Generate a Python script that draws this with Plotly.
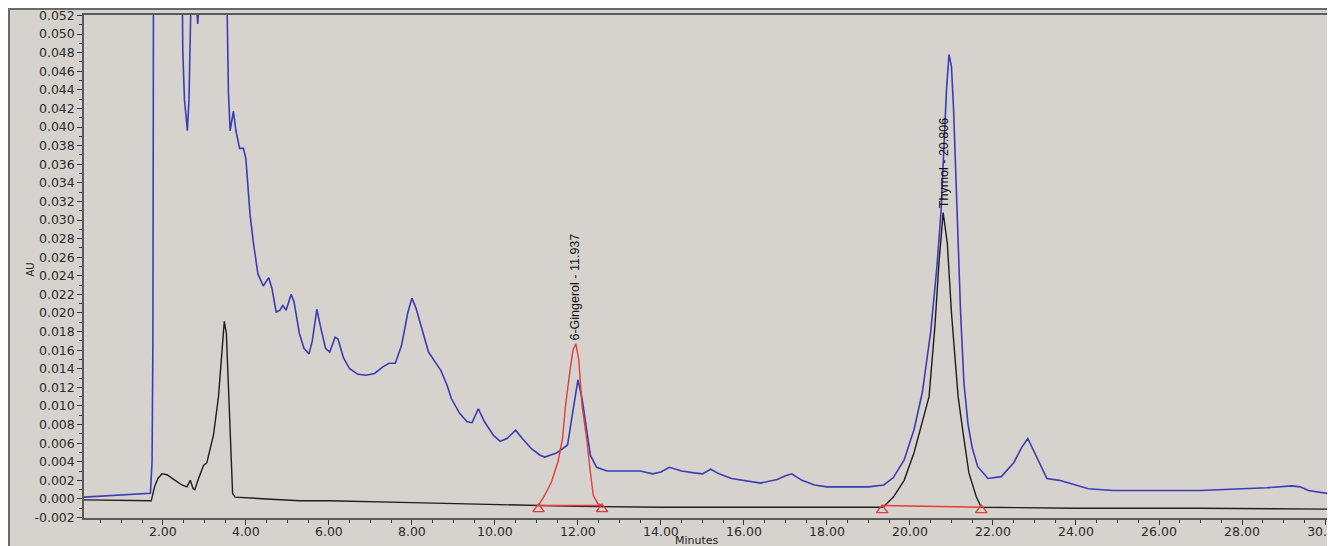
import plotly.graph_objects as go

# ---------------- data ----------------
blue_t = [0.1, 0.5, 1.0, 1.5, 1.70, 1.74, 1.76, 1.77, 1.78, 2.0, 2.3, 2.46, 2.48, 2.52, 2.59, 2.63, 2.66,
          2.75, 2.81, 2.84, 2.87, 3.0, 3.3, 3.54, 3.58, 3.62, 3.70, 3.76, 3.85, 3.94, 4.0, 4.10, 4.18,
          4.29, 4.42, 4.55, 4.63, 4.73, 4.82, 4.89, 4.97, 5.09, 5.16, 5.29, 5.40, 5.52, 5.60, 5.71, 5.80,
          5.92, 6.02, 6.15, 6.22, 6.35, 6.50, 6.70, 6.90, 7.10, 7.30, 7.45, 7.60, 7.75, 7.90, 8.0, 8.1,
          8.25, 8.40, 8.55, 8.70, 8.85, 8.95, 9.15, 9.33, 9.45, 9.60, 9.75, 9.97, 10.13, 10.29, 10.50,
          10.66, 10.88, 11.09, 11.20, 11.47, 11.63, 11.75, 11.85, 11.92, 12.0, 12.1, 12.2, 12.3, 12.45,
          12.7, 13.0, 13.5, 13.8, 14.0, 14.2, 14.5, 14.8, 15.0, 15.2, 15.4, 15.7, 16.0, 16.4, 16.8, 17.0,
          17.15, 17.4, 17.7, 18.0, 18.5, 19.0, 19.37, 19.6, 19.86, 20.1, 20.3, 20.5, 20.65, 20.75, 20.82,
          20.88, 20.94, 21.0, 21.05, 21.1, 21.16, 21.22, 21.3, 21.4, 21.5, 21.63, 21.88, 22.2, 22.5, 22.7,
          22.84, 22.95, 23.08, 23.3, 23.6, 23.9, 24.3, 24.9, 26.0, 27.0, 28.0, 28.6, 29.2, 29.4, 29.6, 30.2]
blue_v = [0.0002, 0.0003, 0.0004, 0.0005, 0.0006, 0.0040, 0.0170, 0.0430, 0.0800, 0.0900, 0.0800, 0.0600,
          0.0482, 0.0430, 0.0396, 0.0430, 0.0600, 0.0700, 0.0530, 0.0511, 0.0530, 0.0700, 0.0700, 0.0550,
          0.0437, 0.0396, 0.0417, 0.0396, 0.0377, 0.0377, 0.0366, 0.0306, 0.0276, 0.0242, 0.0229, 0.0238,
          0.0226, 0.0201, 0.0203, 0.0208, 0.0203, 0.0220, 0.0212, 0.0178, 0.0162, 0.0156, 0.0170, 0.0204,
          0.0185, 0.0162, 0.0158, 0.0174, 0.0172, 0.0152, 0.0140, 0.0134, 0.0133, 0.0135, 0.0142, 0.0146,
          0.0146, 0.0165, 0.0200, 0.0216, 0.0205, 0.0180, 0.0158, 0.0148, 0.0138, 0.0122, 0.0108, 0.0092,
          0.0083, 0.0082, 0.0097, 0.0083, 0.0068, 0.0062, 0.0065, 0.0074, 0.0065, 0.0054, 0.0047, 0.0045,
          0.0049, 0.0054, 0.0058, 0.0086, 0.0108, 0.0128, 0.0108, 0.0076, 0.0047, 0.0034, 0.0030, 0.0030,
          0.0030, 0.0027, 0.0029, 0.0034, 0.0030, 0.0028, 0.0027, 0.0032, 0.0027, 0.0022, 0.0020, 0.0017,
          0.0021, 0.0025, 0.0027, 0.0020, 0.0015, 0.0013, 0.0013, 0.0013, 0.0015, 0.0023, 0.0042, 0.0075,
          0.0115, 0.0180, 0.0250, 0.0310, 0.0380, 0.0440, 0.0478, 0.0465, 0.0420, 0.0350, 0.0280, 0.0200,
          0.0125, 0.0080, 0.0055, 0.0035, 0.0022, 0.0024, 0.0039, 0.0056, 0.0065, 0.0055, 0.0042, 0.0022,
          0.0020, 0.0016, 0.0011, 0.0009, 0.0009, 0.0009, 0.0011, 0.0012, 0.0014, 0.0013, 0.0009, 0.0005]

black_t = [0.1, 1.0, 1.72, 1.80, 1.88, 1.98, 2.1, 2.26, 2.46, 2.58, 2.66, 2.73, 2.77, 2.86, 2.98, 3.06,
           3.14, 3.22, 3.34, 3.42, 3.48, 3.53, 3.58, 3.64, 3.68, 3.74, 4.02, 4.5, 5.3, 6.0, 8.0, 10.0,
           12.0, 14.0, 16.0, 18.0, 19.35, 19.6, 19.86, 20.1, 20.3, 20.46, 20.6, 20.7, 20.8, 20.9, 21.0,
           21.1, 21.16, 21.28, 21.42, 21.6, 21.72, 24.0, 27.0, 30.2]
black_v = [-0.0001, -0.0002, -0.0002, 0.0013, 0.0022, 0.0027, 0.0026, 0.0021, 0.0015, 0.0013, 0.0020,
           0.0011, 0.0010, 0.0022, 0.0036, 0.0039, 0.0054, 0.0069, 0.0110, 0.0163, 0.0191, 0.0178, 0.0126,
           0.0050, 0.0006, 0.0002, 0.0001, 0.0000, -0.0002, -0.0002, -0.0004, -0.0006, -0.0008, -0.0009,
           -0.0009, -0.0009, -0.0009, 0.0002, 0.0020, 0.0050, 0.0085, 0.0110, 0.0185, 0.0255, 0.0308,
           0.0275, 0.0200, 0.0140, 0.0110, 0.0071, 0.0028, 0.0002, -0.0009, -0.0010, -0.0010, -0.0011]

red_t = [11.05, 11.2, 11.36, 11.52, 11.63, 11.7, 11.8, 11.88, 11.95, 12.02, 12.1, 12.21, 12.3, 12.37,
         12.48, 12.58]
red_v = [-0.0007, 0.0004, 0.0018, 0.0040, 0.0065, 0.0100, 0.0135, 0.0160, 0.0167, 0.0150, 0.0100,
         0.0065, 0.0029, 0.0004, -0.0005, -0.0007]

gingerol_base_t = [11.05, 12.58]
gingerol_base_v = [-0.0007, -0.0007]
thymol_base_t = [19.33, 21.72]
thymol_base_v = [-0.0007, -0.0009]
gingerol_mark_v = [-0.0011, -0.0011]
thymol_mark_v = [-0.0012, -0.0012]

peak_names = ["6-Gingerol - 11.937", "Thymol - 20.806"]
peak_t = [11.937, 20.806]
peak_v = [0.0168, 0.0311]

x_tick_vals = [2, 4, 6, 8, 10, 12, 14, 16, 18, 20, 22, 24, 26, 28, 30]
x_tick_text = ["2.00", "4.00", "6.00", "8.00", "10.00", "12.00", "14.00", "16.00", "18.00", "20.00",
               "22.00", "24.00", "26.00", "28.00", "30.00"]
y_tick_vals = [-0.002, 0.000, 0.002, 0.004, 0.006, 0.008, 0.010, 0.012, 0.014, 0.016, 0.018, 0.020,
               0.022, 0.024, 0.026, 0.028, 0.030, 0.032, 0.034, 0.036, 0.038, 0.040, 0.042, 0.044,
               0.046, 0.048, 0.050, 0.052]
y_tick_text = ["-0.002", "0.000", "0.002", "0.004", "0.006", "0.008", "0.010", "0.012", "0.014", "0.016",
               "0.018", "0.020", "0.022", "0.024", "0.026", "0.028", "0.030", "0.032", "0.034", "0.036",
               "0.038", "0.040", "0.042", "0.044", "0.046", "0.048", "0.050", "0.052"]

# ---------------- styling ----------------
BG = "#d6d3ce"
BLUE = "#3c3cb4"
BLACK = "#1e1e1e"
RED = "#e23c3c"
FRAME = "#5a5a5a"
TICKFONT = dict(family="DejaVu Sans", size=12.5, color="#2a2a2a")

fig = go.Figure()
fig.add_trace(go.Scatter(x=blue_t, y=blue_v, mode="lines", line=dict(color=BLUE, width=1.6), hoverinfo="skip"))
fig.add_trace(go.Scatter(x=black_t, y=black_v, mode="lines", line=dict(color=BLACK, width=1.4), hoverinfo="skip"))
fig.add_trace(go.Scatter(x=red_t, y=red_v, mode="lines", line=dict(color=RED, width=1.4), hoverinfo="skip"))
fig.add_trace(go.Scatter(x=gingerol_base_t, y=gingerol_base_v, mode="lines", line=dict(color=RED, width=1.4)))
fig.add_trace(go.Scatter(x=thymol_base_t, y=thymol_base_v, mode="lines", line=dict(color=RED, width=1.6)))
fig.add_trace(go.Scatter(x=gingerol_base_t + thymol_base_t, y=gingerol_mark_v + thymol_mark_v, mode="markers",
                         marker=dict(symbol="triangle-up-open", size=10, color=RED, line=dict(width=1.4))))

for name, t, v in zip(peak_names, peak_t, peak_v):
    fig.add_annotation(x=t, y=v, text=name, textangle=-90, showarrow=False, xanchor="center",
                       yanchor="bottom", font=dict(family="Liberation Sans Narrow, Liberation Sans", size=12.5,
                                                   color="#111"))

# the page body has an 8px margin, so the figure starts at (8, 8) in the window
W, H = 1327, 538
ML, MR, MT, MB = 76, 5, 7, 28
PW, PH = W - ML - MR, H - MT - MB

fig.update_layout(
    width=W, height=H, showlegend=False,
    margin=dict(l=ML, r=MR, t=MT, b=MB, autoexpand=False),
    paper_bgcolor=BG, plot_bgcolor=BG,
    xaxis=dict(range=[0.1, 30.12], showgrid=False, zeroline=False, showline=True, linecolor=FRAME,
               linewidth=1.5, mirror=True, ticks="outside", ticklen=5, tickwidth=1.2, tickcolor="#333",
               tickvals=x_tick_vals, ticktext=x_tick_text, tickfont=TICKFONT, ticklabelstandoff=-4,
               ticklabeloverflow="allow", automargin=False,
               minor=dict(dtick=0.5, tick0=0, ticks="outside", ticklen=3, tickcolor="#333", showgrid=False)),
    yaxis=dict(range=[-0.00205, 0.05205], showgrid=False, zeroline=False, showline=True, linecolor=FRAME,
               linewidth=1.5, mirror=True, ticks="outside", ticklen=5, tickwidth=1.2, tickcolor="#333",
               tickvals=y_tick_vals, ticktext=y_tick_text, tickfont=TICKFONT, ticklabeloverflow="allow",
               automargin=False,
               minor=dict(dtick=0.001, tick0=0, ticks="outside", ticklen=3, tickcolor="#333", showgrid=False)),
)

# outer frame (top and left edges of the figure)
fig.add_shape(type="rect", xref="paper", yref="paper", x0=(1 - ML) / PW, x1=1 + (MR + 10) / PW,
              y0=-(MB + 10) / PH, y1=1 + (MT - 1) / PH, fillcolor="rgba(0,0,0,0)",
              line=dict(color="#6a6a6a", width=2))

# axis titles
fig.add_annotation(xref="paper", yref="paper", x=(14 - ML) / PW, y=(510 - 262) / PH, text="AU", textangle=-90,
                   showarrow=False, font=dict(family="DejaVu Sans", size=10, color="#222"))
fig.add_annotation(xref="paper", yref="paper", x=(689 - ML) / PW, y=-(532 - 510) / PH, yanchor="middle",
                   text="Minutes", showarrow=False, font=dict(family="DejaVu Sans", size=11, color="#222"))

fig.write_html("out.html")
